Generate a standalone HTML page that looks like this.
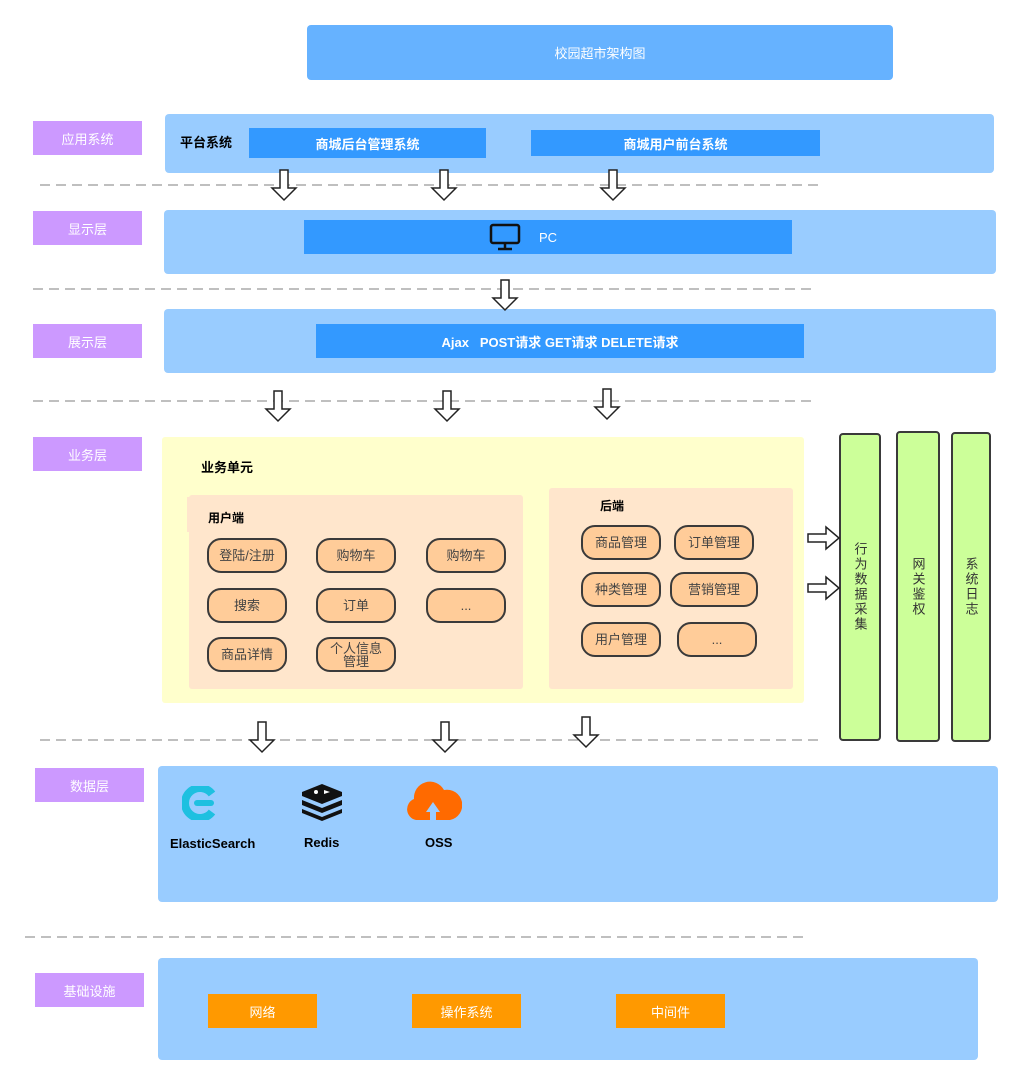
<!DOCTYPE html>
<html><head><meta charset="utf-8"><style>
*{margin:0;padding:0;box-sizing:border-box}
body{width:1022px;height:1085px;background:#fff;position:relative;overflow:hidden;font-family:"Liberation Sans","Noto Sans CJK SC",sans-serif}
.a{position:absolute;display:flex;align-items:center;justify-content:center;text-align:center}
.lb{background:#CC99FF;color:#fff;font-size:13px;width:109px;height:34px;left:33px}
.layer{background:#99CCFF;border-radius:4px}
.bb{background:#3399FF;color:#fff;font-size:13px;font-weight:bold}
.pill{background:#FFCC99;border:2px solid #3a3a3a;border-radius:14px;font-size:13px;color:#444;width:80px;height:35px;line-height:13px}
.or{background:#FF9900;color:#fff;font-size:13px;width:109px;height:34px}
.gr{background:#CCFF99;border:2px solid #3a3a3a;border-radius:4px;font-size:13px;color:#333;writing-mode:vertical-rl;letter-spacing:2px}
.t{position:absolute;font-size:13px;font-weight:bold;color:#000}
</style></head><body>
<div class="a" style="left:307px;top:25px;width:586px;height:55px;background:#66B2FF;border-radius:4px;color:#fff;font-size:13px">校园超市架构图</div>

<div class="a lb" style="top:121px">应用系统</div>
<div class="a layer" style="left:165px;top:114px;width:829px;height:59px"></div>
<div class="t" style="left:180px;top:132px">平台系统</div>
<div class="a bb" style="left:249px;top:128px;width:237px;height:30px">商城后台管理系统</div>
<div class="a bb" style="left:531px;top:130px;width:289px;height:26px">商城用户前台系统</div>

<div class="a lb" style="top:211px">显示层</div>
<div class="a layer" style="left:164px;top:210px;width:832px;height:64px"></div>
<div class="a bb" style="left:304px;top:220px;width:488px;height:34px;font-weight:normal"></div>
<svg style="position:absolute;left:489px;top:223px" width="32" height="28" viewBox="0 0 32 28"><rect x="2" y="2" width="28" height="18" rx="2" fill="none" stroke="#111" stroke-width="2.5"/><line x1="16" y1="20" x2="16" y2="25" stroke="#111" stroke-width="2.5"/><line x1="9" y1="26" x2="23" y2="26" stroke="#111" stroke-width="2.5"/></svg>
<div class="t" style="left:539px;top:230px;color:#fff;font-weight:normal">PC</div>

<div class="a lb" style="top:324px">展示层</div>
<div class="a layer" style="left:164px;top:309px;width:832px;height:64px"></div>
<div class="a bb" style="left:316px;top:324px;width:488px;height:34px">Ajax &nbsp; POST请求 GET请求 DELETE请求</div>

<div class="a lb" style="top:437px">业务层</div>
<div class="a" style="left:162px;top:437px;width:642px;height:266px;background:#FFFFCC;border-radius:3px"></div>
<div class="t" style="left:201px;top:457px">业务单元</div>
<div class="a" style="left:189px;top:495px;width:334px;height:194px;background:#FFE6CC;border-radius:3px"></div>
<div class="a" style="left:187px;top:497px;width:10px;height:35px;background:#FFE6CC"></div>
<div class="t" style="left:208px;top:509px;font-size:12px">用户端</div>
<div class="a pill" style="left:207px;top:538px">登陆/注册</div>
<div class="a pill" style="left:316px;top:538px">购物车</div>
<div class="a pill" style="left:426px;top:538px">购物车</div>
<div class="a pill" style="left:207px;top:588px">搜索</div>
<div class="a pill" style="left:316px;top:588px">订单</div>
<div class="a pill" style="left:426px;top:588px">...</div>
<div class="a pill" style="left:207px;top:637px">商品详情</div>
<div class="a pill" style="left:316px;top:637px">个人信息<br>管理</div>

<div class="a" style="left:549px;top:488px;width:244px;height:201px;background:#FFE6CC;border-radius:3px"></div>
<div class="t" style="left:600px;top:497px;font-size:12px">后端</div>
<div class="a pill" style="left:581px;top:525px">商品管理</div>
<div class="a pill" style="left:674px;top:525px">订单管理</div>
<div class="a pill" style="left:581px;top:572px">种类管理</div>
<div class="a pill" style="left:670px;top:572px;width:88px">营销管理</div>
<div class="a pill" style="left:581px;top:622px">用户管理</div>
<div class="a pill" style="left:677px;top:622px">...</div>

<div class="a gr" style="left:839px;top:433px;width:42px;height:308px">行为数据采集</div>
<div class="a gr" style="left:896px;top:431px;width:44px;height:311px">网关鉴权</div>
<div class="a gr" style="left:951px;top:432px;width:40px;height:310px">系统日志</div>

<div class="a lb" style="top:768px;left:35px">数据层</div>
<div class="a layer" style="left:158px;top:766px;width:840px;height:136px"></div>
<svg style="position:absolute;left:182px;top:786px" width="36" height="34" viewBox="0 0 36 34"><path d="M30 8 A15 15 0 1 0 30 26" fill="none" stroke="#1EC0E0" stroke-width="8"/><rect x="12" y="14" width="20" height="6" rx="3" fill="#1EC0E0"/></svg>
<svg style="position:absolute;left:300px;top:782px" width="44" height="40" viewBox="0 0 44 40"><path d="M22 2 L42 10 L42 14 L22 22 L2 14 L2 10Z" fill="#111"/><path d="M2 18 L22 26 L42 18 L42 23 L22 31 L2 23Z" fill="#111"/><path d="M2 27 L22 35 L42 27 L42 31 L22 39 L2 31Z" fill="#111"/><circle cx="16" cy="10" r="2" fill="#fff"/><path d="M24 8 L30 10 L24 12Z" fill="#fff"/></svg>
<svg style="position:absolute;left:404px;top:780px" width="58" height="42" viewBox="0 0 58 42"><path d="M12 40 A11 11 0 0 1 10 19 A16 16 0 0 1 40 10 A15 15 0 0 1 46 40Z" fill="#FF6A00"/><path d="M29 22 L22 32 L26 32 L26 40 L32 40 L32 32 L36 32Z" fill="#99CCFF"/></svg>
<div class="t" style="left:170px;top:836px">ElasticSearch</div>
<div class="t" style="left:304px;top:835px">Redis</div>
<div class="t" style="left:425px;top:835px">OSS</div>

<div class="a lb" style="top:973px;left:35px">基础设施</div>
<div class="a layer" style="left:158px;top:958px;width:820px;height:102px"></div>
<div class="a or" style="left:208px;top:994px">网络</div>
<div class="a or" style="left:412px;top:994px">操作系统</div>
<div class="a or" style="left:616px;top:994px">中间件</div>

<svg style="position:absolute;left:0;top:0" width="1022" height="1085">
<g stroke="#999" stroke-width="1.3" stroke-dasharray="10,6">
<line x1="40" y1="185" x2="818" y2="185"/>
<line x1="33" y1="289" x2="812" y2="289"/>
<line x1="33" y1="401" x2="812" y2="401"/>
<line x1="40" y1="740" x2="818" y2="740"/>
<line x1="25" y1="937" x2="805" y2="937"/>
</g>
<defs><path id="d" d="M-4 0 L4 0 L4 18 L12 18 L0 30 L-12 18 L-4 18Z" fill="#fff" stroke="#222" stroke-width="1.5"/>
<path id="r" d="M0 -4 L18 -4 L18 -11 L31 0 L18 11 L18 4 L0 4Z" fill="#fff" stroke="#222" stroke-width="1.5"/></defs>
<use href="#d" x="284" y="170"/><use href="#d" x="444" y="170"/><use href="#d" x="613" y="170"/>
<use href="#d" x="505" y="280"/>
<use href="#d" x="278" y="391"/><use href="#d" x="447" y="391"/><use href="#d" x="607" y="389"/>
<use href="#d" x="262" y="722"/><use href="#d" x="445" y="722"/><use href="#d" x="586" y="717"/>
<use href="#r" x="808" y="538"/><use href="#r" x="808" y="588"/>
</svg>
</body></html>
